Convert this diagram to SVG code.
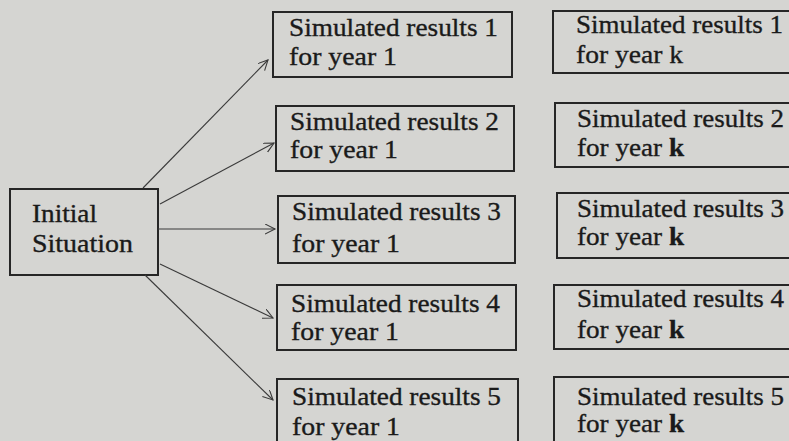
<svg xmlns="http://www.w3.org/2000/svg" width="789" height="441" viewBox="0 0 789 441">
<defs>
<style>
.bg{fill:#d5d5d2}
.box{fill:none;stroke:#262626;stroke-width:2}
.t{font-family:"Liberation Serif","Times New Roman",serif;font-size:26px;fill:#1a1a1a;stroke:#1a1a1a;stroke-width:0.35}
.b{font-weight:bold}
.c{fill:none;stroke:#3a3a3a;stroke-width:1.1}
</style>
<marker id="ah" markerUnits="userSpaceOnUse" markerWidth="12" markerHeight="12" refX="10" refY="5" orient="auto">
<path d="M0,0 L10,5 L0,10" fill="none" stroke="#3a3a3a" stroke-width="1.1"/>
</marker>
</defs>
<rect class="bg" x="0" y="0" width="789" height="441"/>

<g id="initial">
<rect class="box" x="10" y="189" width="148" height="86"/>
<text class="t" x="32" y="222" textLength="65" lengthAdjust="spacingAndGlyphs">Initial</text>
<text class="t" x="32" y="252" textLength="101" lengthAdjust="spacingAndGlyphs">Situation</text>
</g>

<g id="r1y1">
<rect class="box" x="273" y="12" width="239" height="65"/>
<text class="t" x="289" y="36" textLength="209" lengthAdjust="spacingAndGlyphs">Simulated results 1</text>
<text class="t" x="289" y="65" textLength="108" lengthAdjust="spacingAndGlyphs">for year 1</text>
</g>
<g id="r2y1">
<rect class="box" x="276" y="106" width="238" height="65"/>
<text class="t" x="290" y="130" textLength="209" lengthAdjust="spacingAndGlyphs">Simulated results 2</text>
<text class="t" x="290" y="158" textLength="108" lengthAdjust="spacingAndGlyphs">for year 1</text>
</g>
<g id="r3y1">
<rect class="box" x="278" y="196" width="237" height="67"/>
<text class="t" x="292" y="220" textLength="209" lengthAdjust="spacingAndGlyphs">Simulated results 3</text>
<text class="t" x="292" y="252" textLength="108" lengthAdjust="spacingAndGlyphs">for year 1</text>
</g>
<g id="r4y1">
<rect class="box" x="277" y="285" width="239" height="65"/>
<text class="t" x="291" y="312" textLength="209" lengthAdjust="spacingAndGlyphs">Simulated results 4</text>
<text class="t" x="291" y="340" textLength="108" lengthAdjust="spacingAndGlyphs">for year 1</text>
</g>
<g id="r5y1">
<rect class="box" x="277" y="379" width="241" height="70"/>
<text class="t" x="292" y="405" textLength="209" lengthAdjust="spacingAndGlyphs">Simulated results 5</text>
<text class="t" x="292" y="435" textLength="108" lengthAdjust="spacingAndGlyphs">for year 1</text>
</g>

<g id="r1yk">
<rect class="box" x="553" y="11" width="250" height="62"/>
<text class="t" x="576" y="33" textLength="207" lengthAdjust="spacingAndGlyphs">Simulated results 1</text>
<text class="t" x="576" y="63" textLength="107" lengthAdjust="spacingAndGlyphs">for year k</text>
</g>
<g id="r2yk">
<rect class="box" x="555" y="103" width="250" height="64"/>
<text class="t" x="577" y="127" textLength="207" lengthAdjust="spacingAndGlyphs">Simulated results 2</text>
<text class="t" x="577" y="156" textLength="107" lengthAdjust="spacingAndGlyphs">for year <tspan class="b">k</tspan></text>
</g>
<g id="r3yk">
<rect class="box" x="557" y="193" width="250" height="65"/>
<text class="t" x="577" y="217" textLength="207" lengthAdjust="spacingAndGlyphs">Simulated results 3</text>
<text class="t" x="577" y="245" textLength="107" lengthAdjust="spacingAndGlyphs">for year <tspan class="b">k</tspan></text>
</g>
<g id="r4yk">
<rect class="box" x="554" y="285" width="250" height="64"/>
<text class="t" x="577" y="307" textLength="207" lengthAdjust="spacingAndGlyphs">Simulated results 4</text>
<text class="t" x="577" y="338" textLength="107" lengthAdjust="spacingAndGlyphs">for year <tspan class="b">k</tspan></text>
</g>
<g id="r5yk">
<rect class="box" x="554" y="377" width="250" height="72"/>
<text class="t" x="577" y="405" textLength="207" lengthAdjust="spacingAndGlyphs">Simulated results 5</text>
<text class="t" x="577" y="432" textLength="107" lengthAdjust="spacingAndGlyphs">for year <tspan class="b">k</tspan></text>
</g>

<g id="connectors">
<line class="c" x1="143" y1="188" x2="268" y2="60" marker-end="url(#ah)"/>
<line class="c" x1="160" y1="204" x2="274" y2="143" marker-end="url(#ah)"/>
<line class="c" x1="158" y1="229" x2="275" y2="229" marker-end="url(#ah)"/>
<line class="c" x1="160" y1="264" x2="273" y2="318" marker-end="url(#ah)"/>
<line class="c" x1="145" y1="275" x2="273" y2="400" marker-end="url(#ah)"/>
</g>
</svg>
